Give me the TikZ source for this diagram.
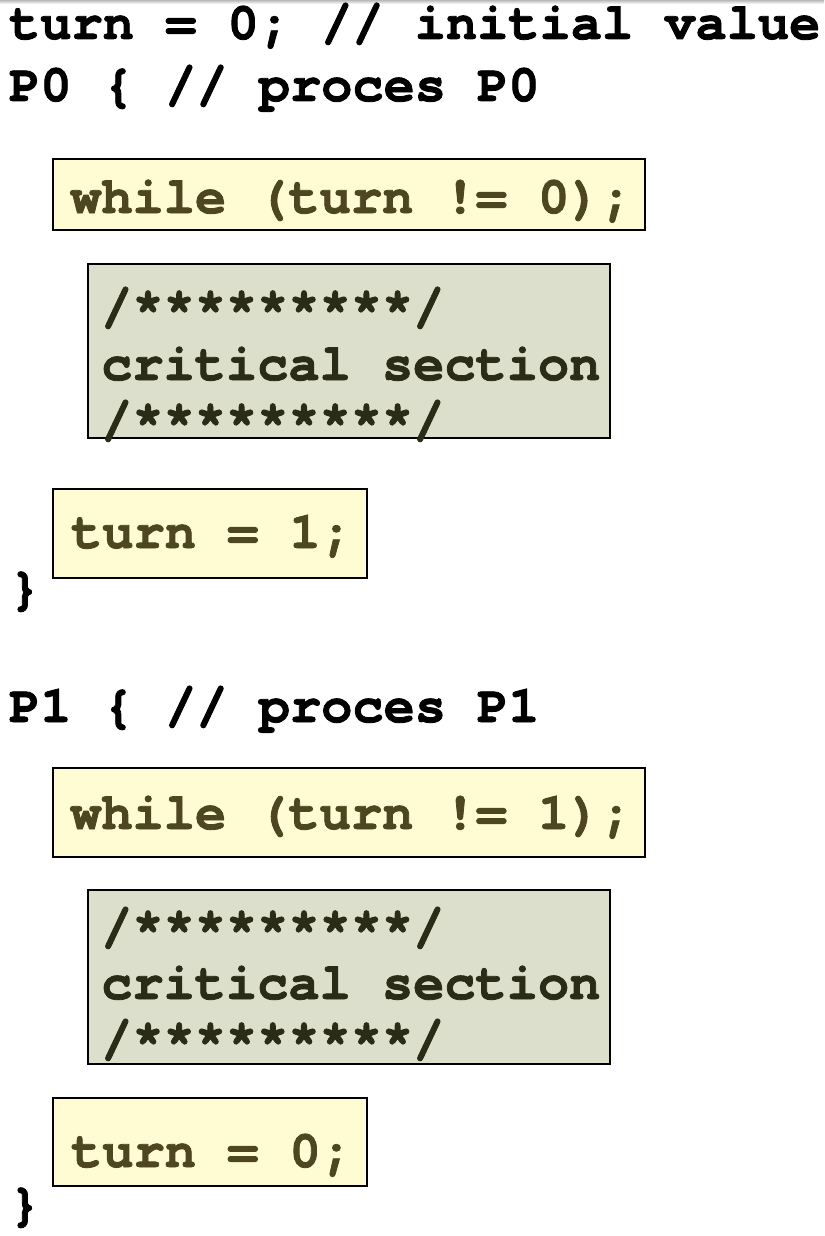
\documentclass[tikz,border=0pt]{standalone}
\usepackage{fontspec}
\setmonofont{TeX Gyre Cursor}[BoldFeatures={FakeBold=1.6}]
\definecolor{yfill}{HTML}{FFFCD4}
\definecolor{ytext}{HTML}{4D4621}
\definecolor{gfill}{HTML}{DCDFCB}
\definecolor{gtext}{HTML}{2B2C17}
\tikzset{
  code/.style={anchor=base west, inner sep=0pt, font=\fontsize{52}{56}\selectfont\ttfamily\bfseries},
  ycode/.style={code, text=ytext},
  gcode/.style={code, text=gtext},
  ybox/.style={draw=black, line width=2.2pt, fill=yfill, anchor=north west, inner sep=0pt},
  gbox/.style={draw=black, line width=2.2pt, fill=gfill, anchor=north west, inner sep=0pt},
}
\begin{document}
\begin{tikzpicture}[x=1pt,y=1pt]
\useasboundingbox (0,0) rectangle (824,-1236);
\fill[white] (0,0) rectangle (824,-1236);
\shade[top color=gray!55, bottom color=white] (0,0) rectangle (824,-4);

% header
\node[code] (l1) at (9,-39) {turn = 0; // initial value};
\node[code] (l2) at (9,-101) {P0 \{ // proces P0};

% P0 boxes
\node[ybox, minimum width=592pt, minimum height=71pt] (b1) at (52,-158) {};
\node[ycode] (t1) at (70,-213) {while (turn != 0);};
\node[gbox, minimum width=522pt, minimum height=174pt] (b2) at (87,-263) {};
\node[gcode] (t2a) at (101,-323) {/*********/};
\node[gcode] (t2b) at (101,-380) {critical section};
\node[gcode] (t2c) at (101,-436) {/*********/};
\node[ybox, minimum width=314pt, minimum height=89pt] (b3) at (52,-488) {};
\node[ycode] (t3) at (71,-548) {turn = 1;};
\node[code] (c1) at (9,-604) {\}};

% P1
\node[code] (l3) at (9,-722) {P1 \{ // proces P1};
\node[ybox, minimum width=592pt, minimum height=89pt] (b4) at (52,-767) {};
\node[ycode] (t4) at (70,-829) {while (turn != 1);};
\node[gbox, minimum width=522pt, minimum height=174pt] (b5) at (87,-889) {};
\node[gcode] (t5a) at (101,-943) {/*********/};
\node[gcode] (t5b) at (101,-999) {critical section};
\node[gcode] (t5c) at (101,-1055) {/*********/};
\node[ybox, minimum width=314pt, minimum height=88pt] (b6) at (52,-1097) {};
\node[ycode] (t6) at (71,-1167) {turn = 0;};
\node[code] (c2) at (9,-1220) {\}};
\end{tikzpicture}
\end{document}
